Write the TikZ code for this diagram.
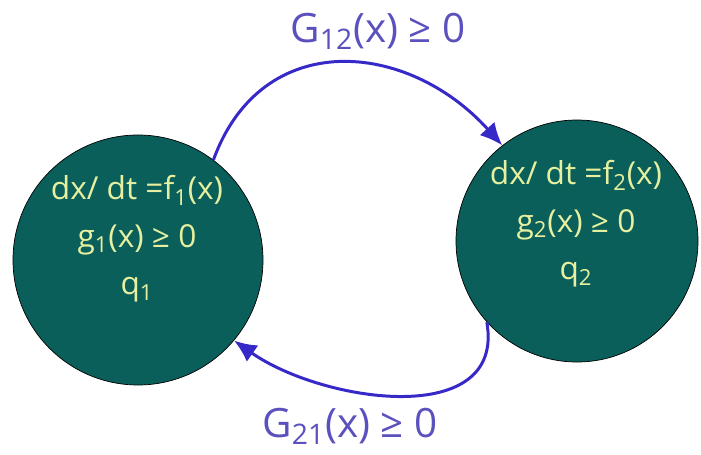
\documentclass[tikz,border=0pt]{standalone}
\usepackage{fontspec}
\setmainfont{Open Sans}
\usetikzlibrary{arrows.meta,positioning}
\definecolor{hybteal}{RGB}{10,95,90}
\definecolor{hybyellow}{RGB}{230,240,160}
\definecolor{hybblue}{RGB}{55,40,200}
\definecolor{hyblabel}{RGB}{90,80,190}

\begin{document}
\begin{tikzpicture}[
    mode/.style={circle, draw=black, thin, fill=hybteal},
    modetext/.style={align=center, text=hybyellow, font=\fontsize{18}{27}\selectfont},
    trans/.style={-{Latex[length=4.5mm, width=4mm]}, line width=1.7pt, draw=hybblue},
    guard/.style={font=\fontsize{23}{26}\selectfont, text=hyblabel},
  ]
  \useasboundingbox (0,0) rectangle (14.02,9.08);

  % --- discrete modes ---
  \node[mode, minimum size=5cm] (q1) at (2.76, 3.88) {};
  \node[modetext] (q1text) at (2.74, 4.3)
    {dx/ dt =f\textsubscript{1}(x)\\ g\textsubscript{1}(x) ≥ 0\\ q\textsubscript{1}};
  \node[mode, minimum size=4.84cm] (q2) at (11.54, 4.26) {};
  \node[modetext] (q2text) at (11.52, 4.6)
    {dx/ dt =f\textsubscript{2}(x)\\ g\textsubscript{2}(x) ≥ 0\\ q\textsubscript{2}};

  % --- transitions ---
  \draw[trans] (q1.53) to[out=70, in=132, looseness=1.25] (q2.128);
  \draw[trans] (q2.222) to[out=-80, in=-35, looseness=1.1] (q1.-40);

  % --- guards ---
  \node[guard] (g12) at (7.56, 8.45) {G\textsubscript{12}(x) ≥ 0};
  \node[guard] (g21) at (7.0, 0.55) {G\textsubscript{21}(x) ≥ 0};
\end{tikzpicture}
\end{document}
